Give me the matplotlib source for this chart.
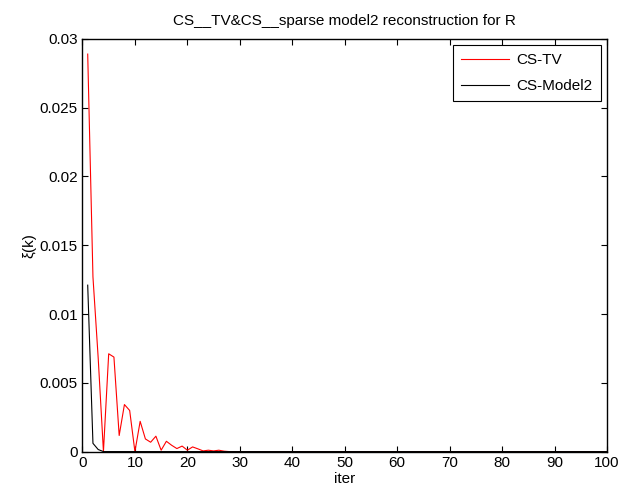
import matplotlib
matplotlib.use('Agg')
import matplotlib.pyplot as plt
import numpy as np

plt.rcParams['font.family'] = ['Liberation Sans', 'DejaVu Sans']

# %% Data
iters = np.arange(1, 101)

tv_head = [0.0289, 0.0127, 0.0068, 0.0, 0.00711, 0.00687, 0.00117, 0.00342,
           0.00299, 0.0, 0.0022, 0.00092, 0.00068, 0.00112, 0.0001, 0.00075,
           0.00046, 0.00022, 0.0004, 0.0001, 0.00034, 0.0002, 0.00005, 0.0001,
           0.00005, 0.0001, 0.00003]
model2_head = [0.0121, 0.0006, 0.00015, 0.0]

cs_tv = np.zeros(len(iters))
cs_tv[:len(tv_head)] = tv_head
cs_model2 = np.zeros(len(iters))
cs_model2[:len(model2_head)] = model2_head

title = 'CS__TV&CS__sparse model2 reconstruction for R'
xticks = np.arange(0, 101, 10)
yticks = [0, 0.005, 0.01, 0.015, 0.02, 0.025, 0.03]
ytick_labels = ['0', '0.005', '0.01', '0.015', '0.02', '0.025', '0.03']

# %% Figure
fs = 11
fig = plt.figure(figsize=(6.2, 4.93), dpi=100)
ax = fig.add_axes([0.133, 0.084, 0.846, 0.837])

ax.plot(iters, cs_tv, color='red', lw=0.8, label='CS-TV')
ax.plot(iters, cs_model2, color='black', lw=0.8, label='CS-Model2')

ax.set_xlim(0, 100)
ax.set_ylim(0, 0.03)
ax.set_xticks(xticks)
ax.set_yticks(yticks)
ax.set_yticklabels(ytick_labels)
ax.tick_params(direction='in', top=True, right=True, labelsize=fs, length=4, width=0.8)
for s in ax.spines.values():
    s.set_linewidth(1.0)

ax.set_xlabel('iter', fontsize=fs, labelpad=1)
ax.set_ylabel('\u03be(k)', fontsize=fs, labelpad=2)
ax.set_title(title, fontsize=fs, pad=10)

leg = ax.legend(loc='upper right', fontsize=fs, fancybox=False, framealpha=1,
                edgecolor='black', handlelength=3.1, handletextpad=0.5,
                labelspacing=0.75, borderpad=0.55, borderaxespad=0.4)
leg.get_frame().set_linewidth(0.8)

fig.savefig('out.png', dpi=100)
